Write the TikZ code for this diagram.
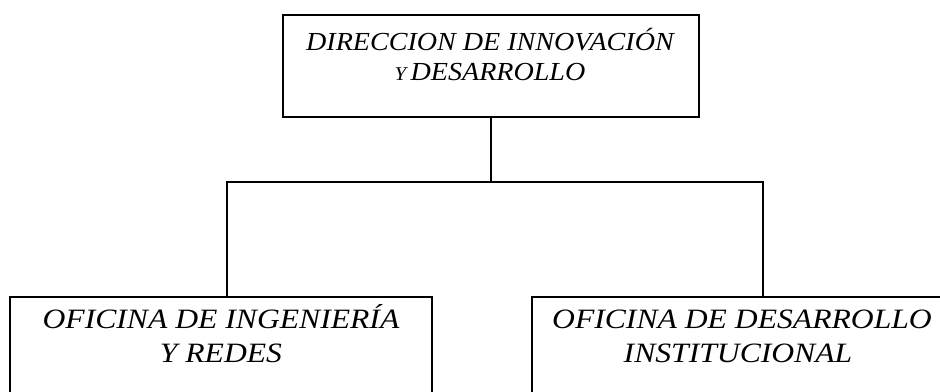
\documentclass[tikz,border=0pt]{standalone}
\usepackage{fontspec}
\setmainfont{Liberation Serif}
\newfontfamily\topfont[FakeStretch=1.08]{Liberation Serif}
\newfontfamily\botfont[FakeStretch=1.13]{Liberation Serif}
\begin{document}
\begin{tikzpicture}[x=1pt,y=-1pt,
  box/.style={draw=black,line width=1.5pt,rectangle,inner sep=0pt},
  toplbl/.style={font=\topfont\itshape\fontsize{26}{30}\selectfont,align=center,inner sep=0pt,anchor=base},
  botlbl/.style={font=\botfont\itshape\fontsize{28}{34}\selectfont,align=center,inner sep=0pt,anchor=base},
  link/.style={draw=black,line width=1.5pt}]
\useasboundingbox (0,0) rectangle (940,391);
\clip (0,0) rectangle (940,391);
% boxes
\node[box,minimum width=416pt,minimum height=102pt] (top) at (491,66) {};
\node[box,minimum width=422pt,minimum height=140pt] (left) at (221,367) {};
\node[box,minimum width=420pt,minimum height=140pt] (right) at (742,367) {};
% texts
\node[toplbl] (toptext1) at (490,50) {DIRECCION DE INNOVACIÓN};
\node[toplbl] (toptext2) at (490,80) {{\fontsize{19.5}{20}\selectfont Y}\,DESARROLLO};
\node[botlbl] (lefttext1) at (221,328) {OFICINA DE INGENIERÍA};
\node[botlbl] (lefttext2) at (221,362) {Y REDES};
\node[botlbl] (righttext1) at (742,328) {OFICINA DE DESARROLLO};
\node[botlbl] (righttext2) at (738,362) {INSTITUCIONAL};
% connectors
\coordinate (jn) at (491,182);
\coordinate (jl) at (227,182);
\coordinate (jr) at (763,182);
\draw[link] (top.south) -- (jn);
\draw[link] ([xshift=-1pt]jl) -- ([xshift=1pt]jr);
\draw[link] (jl) -- (jl |- left.north);
\draw[link] (jr) -- (jr |- right.north);
\end{tikzpicture}
\end{document}
